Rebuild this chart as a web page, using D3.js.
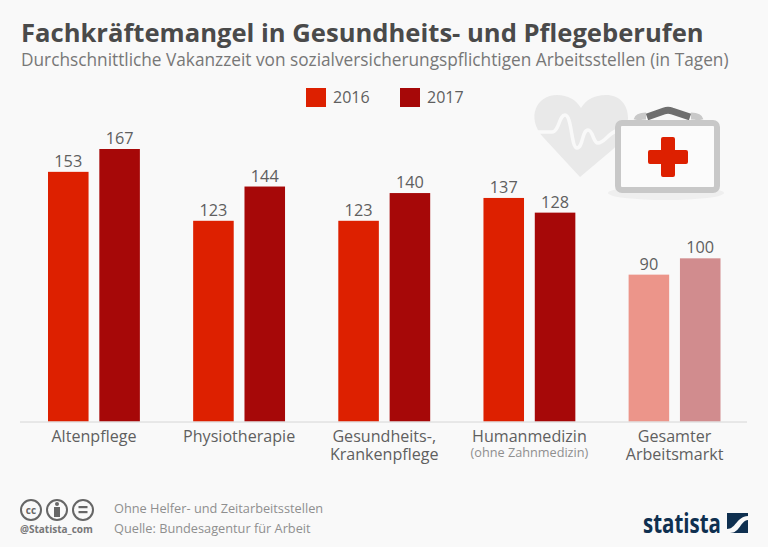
<!DOCTYPE html>
<html><head><meta charset="utf-8">
<script src="https://cdn.jsdelivr.net/npm/d3@7/dist/d3.min.js"></script>
<style>html,body{margin:0;padding:0;background:#f9f9f9}svg{display:block}text{font-family:"Open Sans",sans-serif}</style>
</head><body><svg id="c" width="768" height="547"></svg>
<script>
const categories=["Altenpflege","Physiotherapie","Gesundheits-,|Krankenpflege","Humanmedizin","Gesamter|Arbeitsmarkt"];
const values2016=[153,123,123,137,90];
const values2017=[167,144,140,128,100];
const seriesNames=["2016","2017"];
const seriesColors=["#dd2000","#a60808"];
const fadedColors=["#ec958a","#d18c8e"];
const fadedCategory="Gesamter|Arbeitsmarkt";
const title="Fachkräftemangel in Gesundheits- und Pflegeberufen";
const subtitle="Durchschnittliche Vakanzzeit von sozialversicherungspflichtigen Arbeitsstellen (in Tagen)";
const note="Ohne Helfer- und Zeitarbeitsstellen";
const source="Quelle: Bundesagentur für Arbeit";
const handle="@Statista_com";
const humanNote="(ohne Zahnmedizin)";

const svg=d3.select("#c");
svg.append("rect").attr("width",768).attr("height",547).attr("fill","#f9f9f9");
const txt="#5f5f5f";
svg.append("text").attr("x",21).attr("y",42).attr("font-size",25.6).attr("font-weight",700).attr("fill","#4a4a4a").text(title);
svg.append("text").attr("x",21).attr("y",66).attr("font-size",17.25).attr("fill","#777").text(subtitle);

// legend
const leg=[[306,"2016",0],[400,"2017",1]];
leg.forEach(([x,n,i])=>{
 svg.append("rect").attr("x",x).attr("y",88).attr("width",20).attr("height",19).attr("fill",seriesColors[i]);
 svg.append("text").attr("x",x+27).attr("y",103).attr("font-size",16).attr("fill",txt).text(n);
});

// illustration
const ill=svg.append("g");
ill.append("path").attr("fill","#e9e9e9").attr("d","M580 177 L543 137 C526 118 536 95 557 95 C568 95 576 100 581 108 C586 100 594 95 606 95 C620 95 628 105 628 118 C628 130 622 142 612 150 Z");
ill.append("path").attr("fill","none").attr("stroke","#f9f9f9").attr("stroke-width",3.5).attr("d","M536 132 L552 132 C559 132 559 115 565 115 C572 115 571 148 577 148 C583 148 582 130 588 130 C593 130 593 143 598 143 C604 143 608 134 616 131");
ill.append("ellipse").attr("cx",666).attr("cy",193).attr("rx",58).attr("ry",7).attr("fill","#efefef");
ill.append("path").attr("fill","none").attr("stroke","#c9c9c9").attr("stroke-width",7).attr("d","M637 120 Q638 116 646 116 M691 116 Q699 116 700 120");
ill.append("path").attr("fill","none").attr("stroke","#6f6f6f").attr("stroke-width",7).attr("stroke-linejoin","round").attr("d","M647 117 L664 111 Q668 109.5 672 111 L690 117");
ill.append("rect").attr("x",618).attr("y",123).attr("width",99).attr("height",67).attr("rx",4).attr("fill","#fbfbfb").attr("stroke","#c8c8c8").attr("stroke-width",6);
ill.append("path").attr("fill","#dd2000").attr("stroke","#dd2000").attr("stroke-width",4).attr("stroke-linejoin","round").attr("d","M663 139 H673 V152 H686 V162 H673 V175 H663 V162 H650 V152 H663 Z");

// chart
const base=421.5;
const x=d3.scaleBand().domain(categories).range([48,720.5]).paddingInner(0.367).paddingOuter(0);
const x1=d3.scaleBand().domain(seriesNames).range([0,x.bandwidth()]).paddingInner(0.21).paddingOuter(0);
const y=d3.scaleLinear().domain([0,167]).range([base,149]);
const rows=categories.map((c,i)=>({c,vals:[values2016[i],values2017[i]]}));
const g=svg.selectAll("g.grp").data(rows).join("g").attr("class","grp").attr("transform",d=>`translate(${x(d.c)},0)`);
g.selectAll("rect").data(d=>d.vals.map((v,i)=>({v,i,c:d.c}))).join("rect")
 .attr("x",d=>x1(seriesNames[d.i])).attr("y",d=>y(d.v)).attr("width",x1.bandwidth()).attr("height",d=>base-y(d.v))
 .attr("fill",d=>d.c===fadedCategory?fadedColors[d.i]:seriesColors[d.i]);
g.selectAll("text").data(d=>d.vals.map((v,i)=>({v,i}))).join("text")
 .attr("x",d=>x1(seriesNames[d.i])+x1.bandwidth()/2).attr("y",d=>y(d.v)-5).attr("text-anchor","middle")
 .attr("font-size",16.3).attr("fill",txt).text(d=>d.v);
svg.append("line").attr("x1",20).attr("x2",747).attr("y1",422).attr("y2",422).attr("stroke","#d6d6d6").attr("stroke-width",1);

// axis labels through d3 axis
const ax=svg.append("g").attr("transform","translate(0,422)").call(d3.axisBottom(x).tickSize(0).tickPadding(0).tickFormat(""));
ax.select(".domain").remove();
ax.selectAll(".tick").each(function(d){
 const parts=d.split("|");
 const t=d3.select(this);
 t.selectAll("text").remove();
 const tx=t.append("text").attr("y",20).attr("text-anchor","middle").attr("font-size",16.1).attr("fill",txt);
 parts.forEach((p,i)=>tx.append("tspan").attr("x",0).attr("y",20+i*17.5).text(p));
 if(d==="Humanmedizin") tx.append("tspan").attr("x",0).attr("y",35).attr("font-size",12.7).attr("fill","#8f8f8f").text(humanNote);
});

// footer
const lic=svg.append("g").attr("fill","none").attr("stroke","#666").attr("stroke-width",2);
[31,57,83].forEach(cx=>lic.append("circle").attr("cx",cx).attr("cy",510).attr("r",10));
svg.append("text").attr("x",31).attr("y",513.5).attr("text-anchor","middle").attr("font-size",10).attr("font-weight",700).attr("fill","#666").text("cc");
svg.append("circle").attr("cx",57).attr("cy",504).attr("r",2).attr("fill","#666");
svg.append("rect").attr("x",54).attr("y",507).attr("width",6).attr("height",10).attr("fill","#666");
svg.append("rect").attr("x",78.5).attr("y",506).attr("width",9).attr("height",2.2).attr("fill","#666");
svg.append("rect").attr("x",78.5).attr("y",511).attr("width",9).attr("height",2.2).attr("fill","#666");
svg.append("text").attr("x",20).attr("y",533).attr("font-size",10).attr("font-weight",700).attr("fill","#777").text(handle);
svg.append("text").attr("x",114).attr("y",513).attr("font-size",12.75).attr("fill","#8f8f8f").text(note);
svg.append("text").attr("x",114).attr("y",533).attr("font-size",12.75).attr("fill","#8f8f8f").text(source);
svg.append("text").attr("x",643).attr("y",533).attr("font-size",26).attr("font-weight",700).attr("font-family","Roboto").attr("textLength",78).attr("lengthAdjust","spacingAndGlyphs").attr("fill","#0f3050").text("statista");
svg.append("rect").attr("x",727).attr("y",513).attr("width",21).attr("height",20).attr("fill","#0f3050");
svg.append("path").attr("fill","#f9f9f9").attr("d","M727 529 C736 529 736 517 748 516 L748 520 C740 521 740 533 730 533 L727 533 Z");
</script></body></html>
